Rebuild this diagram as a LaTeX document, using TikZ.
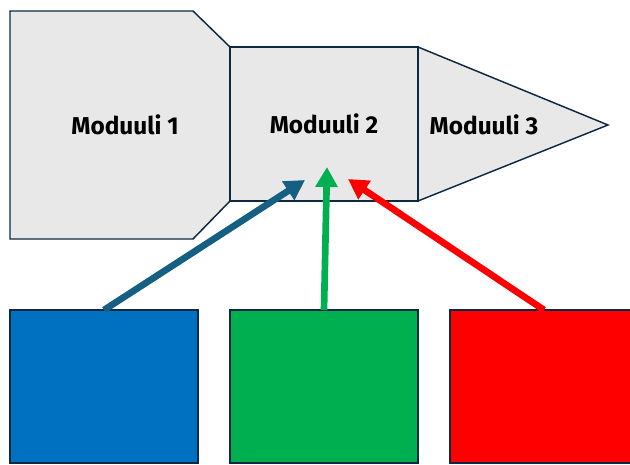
\documentclass[tikz,border=0pt]{standalone}
\usepackage{fontspec}
\setmainfont{Fira Sans}
\usetikzlibrary{arrows.meta}

\definecolor{outline}{HTML}{0E2841}
\definecolor{modfill}{HTML}{E8E8E8}
\definecolor{boxblue}{HTML}{0070C0}
\definecolor{boxgreen}{HTML}{00B050}
\definecolor{boxred}{HTML}{FF0000}
\definecolor{arrowblue}{HTML}{156082}

\tikzset{
  module/.style={draw=outline, fill=modfill, line width=1.1pt},
  modtext/.style={font=\bfseries\fontsize{18.3}{21}\selectfont, inner sep=0.75pt},
  block/.style={draw=outline, line width=1.1pt, minimum width=141pt, minimum height=114.75pt, inner sep=0pt, outer sep=0pt},
  feed/.style={line width=5pt, -{Triangle[length=15pt,width=16pt]}},
}

\begin{document}
\begin{tikzpicture}[x=0.75pt,y=0.75pt,yscale=-1,xscale=1]
\useasboundingbox (0,0) rectangle (630,464);

%Shape: Moduuli 1
\draw [module] (10,11) -- (193,11) -- (230,47) -- (230,201) -- (193,239) -- (10,239) -- cycle ;
%Shape: Moduuli 3
\draw [module] (418,47) -- (608,125) -- (418,201) -- cycle ;
%Shape: Moduuli 2
\node [module, modtext, minimum width=141pt, minimum height=115.5pt, inner sep=0pt, outer sep=0pt] (mod2) at (324,124) {Moduuli 2};

% Text Node
\node [modtext] (mod1) at (125,125) {Moduuli 1};
% Text Node
\node [modtext] (mod3) at (484,125) {Moduuli 3};

%Shape: bottom blocks
\node [block, fill=boxblue] (blue) at (104,386.5) {};
\node [block, fill=boxgreen] (green) at (324,386.5) {};
\node [block, fill=boxred] (red) at (544,386.5) {};

%Arrow tips inside Moduuli 2
\coordinate (tipB) at (305,180);
\coordinate (tipG) at (327,167);
\coordinate (tipR) at (348,179);

%Straight Lines
\draw [feed, arrowblue] (blue.north) -- (tipB) ;
\draw [feed, boxgreen] (green.north) -- (tipG) ;
\draw [feed, boxred] (red.north) -- (tipR) ;

\end{tikzpicture}
\end{document}
